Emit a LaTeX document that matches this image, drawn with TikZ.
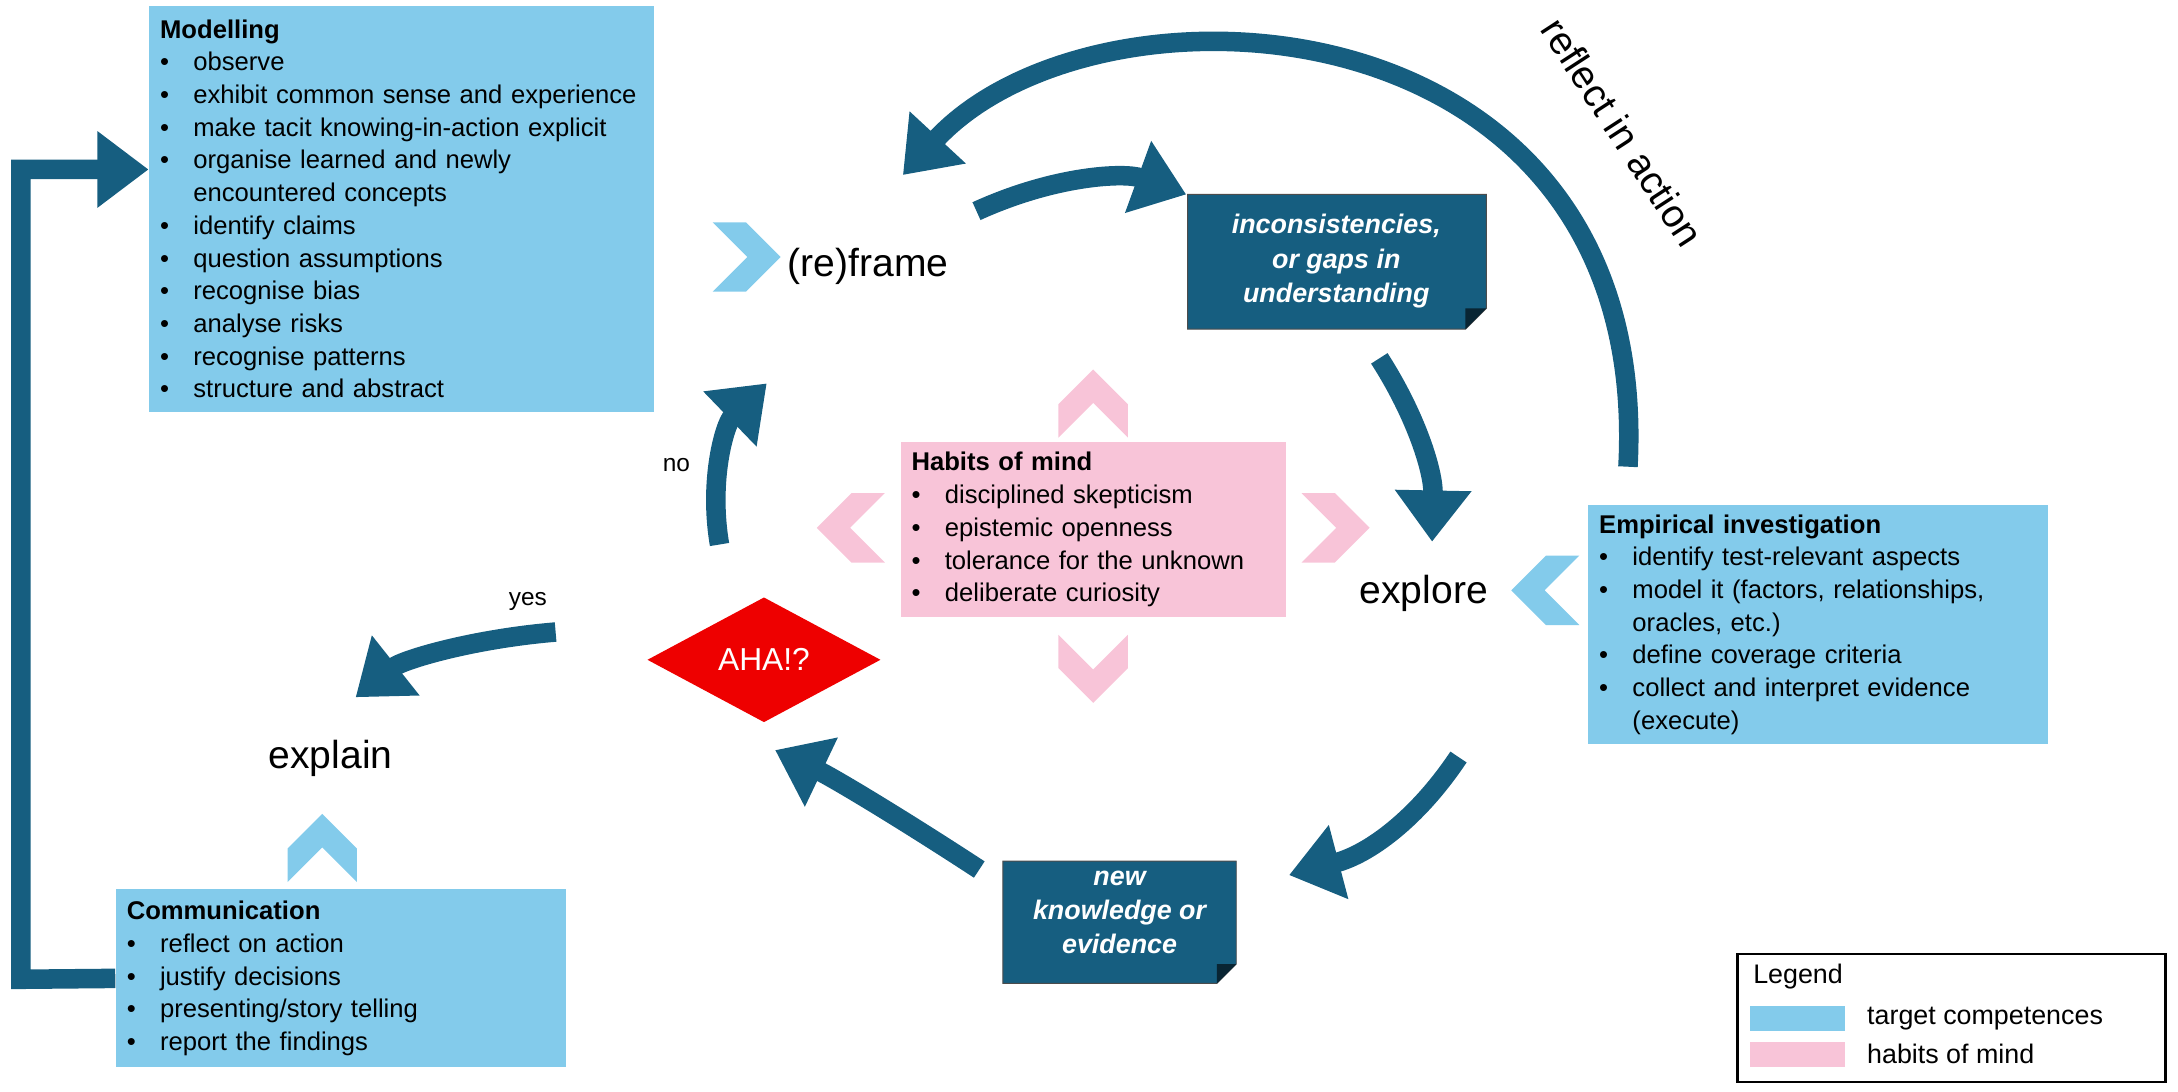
\documentclass[tikz,border=0pt]{standalone}
\usepackage{fontspec}
\setmainfont{Liberation Sans}
\usetikzlibrary{arrows.meta,shapes.geometric}
\definecolor{dblue}{RGB}{22,94,128}
\definecolor{lblue}{RGB}{131,203,235}
\definecolor{hpink}{RGB}{248,196,216}
\definecolor{ahared}{RGB}{238,0,0}
\newcommand\itm[1]{\makebox[1.3em][l]{\textbullet}#1}
\newcommand\cnt[1]{\hspace{1.3em}#1}
\begin{document}
\begin{tikzpicture}[x=0.2mm,y=-0.2mm,
    flow/.style={draw=dblue,line width=8pt,-{Triangle[width=30pt,length=21pt]}},
    comp/.style={fill=lblue,anchor=north west,align=left,inner xsep=4.5pt,inner ysep=4pt,
      font=\fontsize{10.5}{13.4}\selectfont},
    habit/.style={comp,fill=hpink},
    stage/.style={font=\fontsize{16}{19}\selectfont},
    dark/.style={text=white,align=center,font=\fontsize{11}{14}\selectfont\bfseries\itshape},
    chev/.pic={\fill (-25,-25) -- (-1,-25) -- (24,0) -- (-1,25) -- (-25,25) -- (0,0) -- cycle;}]
        \useasboundingbox (0,0) rectangle (1568,786);
        %
        \node[comp,text width=6.95cm,minimum height=5.84cm] (model) at (107,4) {\textbf{Modelling}\\
          \itm{observe}\\ \itm{exhibit common sense and experience}\\
          \itm{make tacit knowing-in-action explicit}\\ \itm{organise learned and newly}\\
          \cnt{encountered concepts}\\ \itm{identify claims}\\ \itm{question assumptions}\\
          \itm{recognise bias}\\ \itm{analyse risks}\\ \itm{recognise patterns}\\
          \itm{structure and abstract}};
        \node[comp,text width=6.3cm,minimum height=3.44cm] (empir) at (1143,363) {\textbf{Empirical investigation}\\
          \itm{identify test-relevant aspects}\\ \itm{model it (factors, relationships,}\\
          \cnt{oracles, etc.)}\\ \itm{define coverage criteria}\\
          \itm{collect and interpret evidence}\\ \cnt{(execute)}};
        \node[comp,text width=6.16cm,minimum height=2.56cm] (comm) at (83,640) {\textbf{Communication}\\
          \itm{reflect on action}\\ \itm{justify decisions}\\
          \itm{presenting/story telling}\\ \itm{report the findings}};
        \node[habit,text width=5.24cm,minimum height=2.52cm] (habits) at (648,318) {\textbf{Habits of mind}\\
          \itm{disciplined skepticism}\\ \itm{epistemic openness}\\
          \itm{tolerance for the unknown}\\ \itm{deliberate curiosity}};
        %
        \node[stage] (reframe) at (625,192) {(re)frame};
        \node[stage] (explore) at (1025,427) {explore};
        \node[stage] (explain) at (238,546) {explain};
        \node[diamond,fill=ahared,text=white,minimum width=3.36cm,minimum height=1.8cm,aspect=1.87,
          inner sep=0pt,font=\fontsize{13}{15}\selectfont] (aha) at (550,475) {AHA!?};
        %
        \fill[dblue,draw=black!70] (855,140) -- (1070,140) -- (1070,222) -- (1055,237) -- (855,237) -- cycle;
        \fill[black!60!dblue] (1070,222) -- (1055,222) -- (1055,237) -- cycle;
        \node[dark] (gaps) at (962,188) {inconsistencies,\\or gaps in\\understanding};
        \fill[dblue,draw=black!70] (722,620) -- (890,620) -- (890,694) -- (876,708) -- (722,708) -- cycle;
        \fill[black!60!dblue] (890,694) -- (876,694) -- (876,708) -- cycle;
        \node[dark] (newk) at (806,657) {new\\knowledge or\\evidence};
        %
        \pic[color=lblue] at (538,185) {chev};
        \pic[color=lblue,rotate=180] at (1112,425) {chev};
        \pic[color=lblue,rotate=90] at (232,610) {chev};
        \pic[color=hpink,rotate=90] at (787,290) {chev};
        \pic[color=hpink,rotate=180] at (612,380) {chev};
        \pic[color=hpink] at (962,380) {chev};
        \pic[color=hpink,rotate=-90] at (787,482) {chev};
        %
        \coordinate (r0) at (1172,336);
        \coordinate (r1) at (650,126);
        \draw[flow] (r0) .. controls (1190,-5) and (790,-25) .. (r1);
        \node[stage,rotate=-57] (reflect) at (1168,95) {reflect in action};
        \coordinate (a0) at (703,152);
        \coordinate (a1) at (854,140);
        \draw[flow] (a0) .. controls (760,126) and (810,124) .. (a1);
        \coordinate (b0) at (993,258);
        \coordinate (b1) at (1031,390);
        \draw[flow] (b0) .. controls (1020,300) and (1032,340) .. (b1);
        \coordinate (c0) at (1050,545);
        \coordinate (c1) at (928,630);
        \draw[flow] (c0) .. controls (1020,590) and (985,615) .. (c1);
        \coordinate (d0) at (705,626);
        \coordinate (d1) at (558,540);
        \draw[flow] (d0) .. controls (650,590) and (600,560) .. (d1);
        \coordinate (e0) at (400,455);
        \coordinate (e1) at (256,502);
        \draw[flow] (e0) .. controls (340,460) and (290,475) .. (e1);
        \node (yes) at (380,433) {yes};
        \coordinate (f0) at (518,392);
        \coordinate (f1) at (552,276);
        \draw[flow] (f0) .. controls (510,345) and (522,305) .. (f1);
        \node (no) at (487,335) {no};
        \draw[flow] (comm.west) -- (15,705) -- (15,122) -- (model.west |- 0,122);
        %
        \node[draw=black,line width=1pt,minimum width=6.16cm,minimum height=1.84cm,anchor=north west] (legend) at (1250,686) {};
        \node[anchor=west,font=\fontsize{11}{13}\selectfont] (legtitle) at (1256,703) {Legend};
        \fill[lblue] (1260,724) rectangle (1328,742);
        \fill[hpink] (1260,750) rectangle (1328,768);
        \node[anchor=west,font=\fontsize{11}{13}\selectfont] (legblue) at (1338,733) {target competences};
        \node[anchor=west,font=\fontsize{11}{13}\selectfont] (legpink) at (1338,759) {habits of mind};
\end{tikzpicture}
\end{document}
